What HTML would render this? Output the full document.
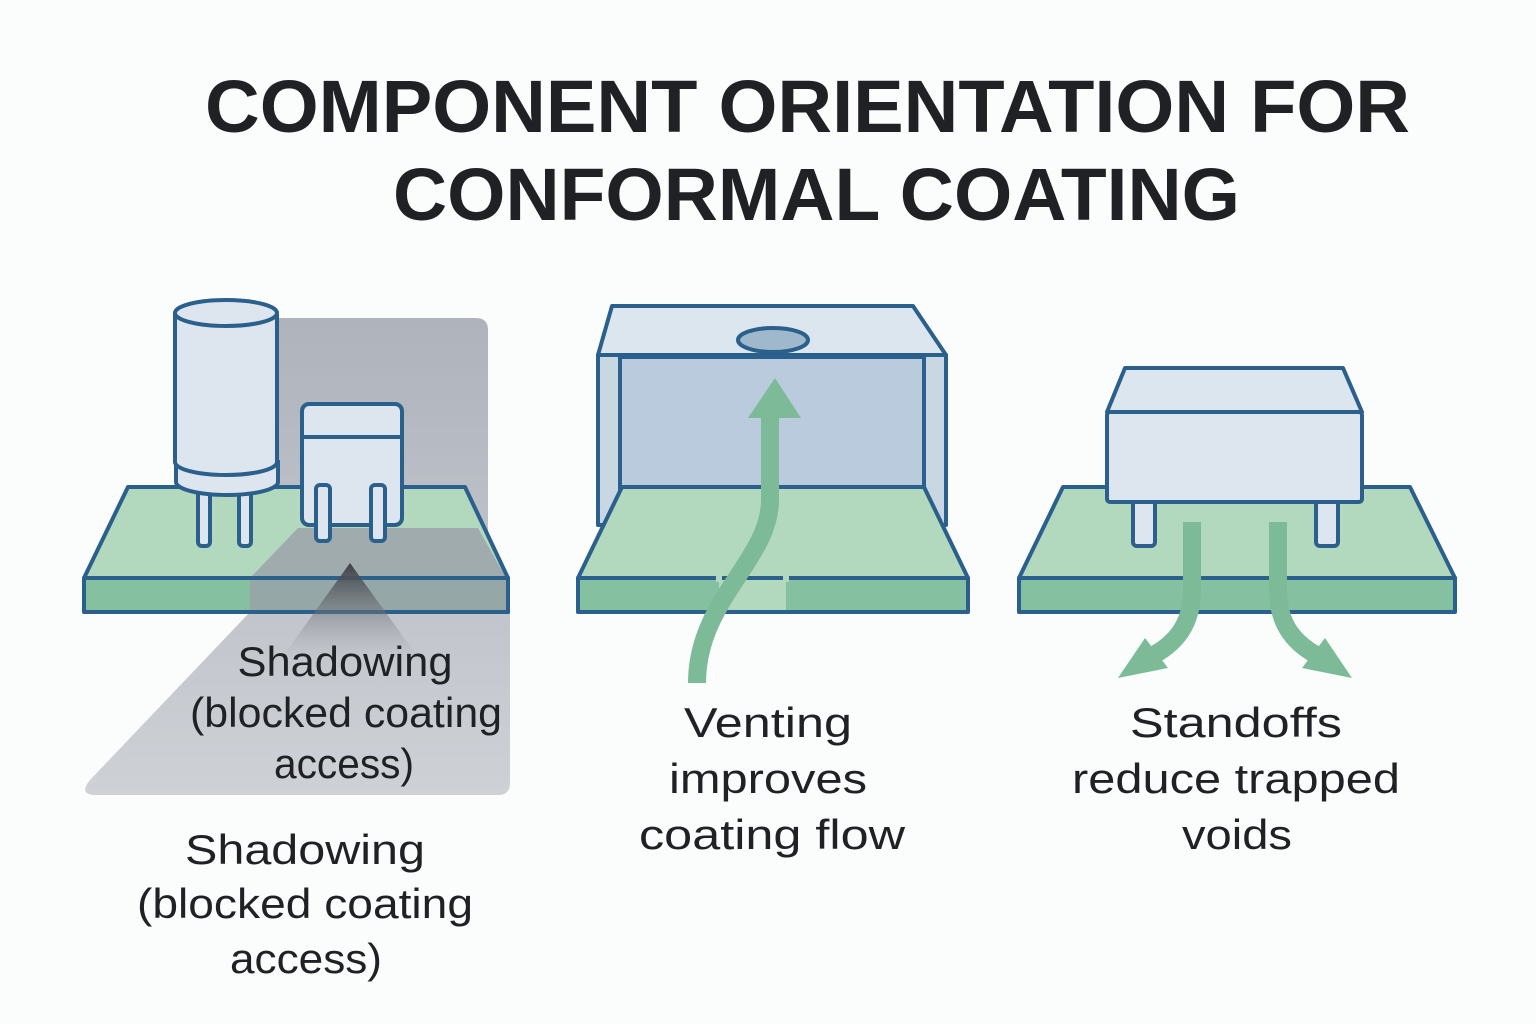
<!DOCTYPE html>
<html><head><meta charset="utf-8"><style>html,body{margin:0;padding:0;background:#fbfcfc}svg{display:block}</style></head>
<body>
<svg width="1536" height="1024" viewBox="0 0 1536 1024" xmlns="http://www.w3.org/2000/svg">
<defs>
<linearGradient id="sh" x1="0" y1="0" x2="0" y2="1"><stop offset="0" stop-color="#aeb3bc"/><stop offset="1" stop-color="#ced1d6"/></linearGradient>
<linearGradient id="tri" x1="0" y1="0" x2="0" y2="1"><stop offset="0" stop-color="#3c3f45"/><stop offset="1" stop-color="#9ea2aa" stop-opacity="0"/></linearGradient>
</defs>
<rect width="1536" height="1024" fill="#fbfcfc"/>
<g font-family="Liberation Sans, sans-serif" font-weight="bold" fill="#1f2124" font-size="74">
<text x="205" y="132" textLength="1205" lengthAdjust="spacingAndGlyphs">COMPONENT ORIENTATION FOR</text>
<text x="393" y="220" textLength="847" lengthAdjust="spacingAndGlyphs">CONFORMAL COATING</text>
</g>
<g stroke="#2b5f8c" stroke-width="4" stroke-linejoin="round">
<!-- Panel 1 -->
<path d="M262,318 H476 Q488,318 488,330 V580 H510 V783 Q510,795 498,795 H96 Q78,795 90,780 L250,612 V330 Q250,318 262,318Z" fill="url(#sh)" stroke="none"/>
<path d="M128,487 H465 L508,578 H84Z" fill="#b2d8bd"/>
<rect x="84" y="578" width="424" height="34" fill="#85c0a0"/>
<path d="M298,528 H478 L506,578 H250Z M250,580 H506 V610 H250Z" fill="#9aa0a9" fill-opacity="0.8" stroke="none"/>
<path d="M84,578 H508 M508,578 V612 H84" fill="none"/>
<path d="M350,563 L420,660 H280Z" fill="url(#tri)" stroke="none"/>
<rect x="198" y="480" width="12" height="66" rx="4" fill="#dde6ee"/>
<rect x="239" y="480" width="12" height="66" rx="4" fill="#dde6ee"/>
<path d="M176,460 V482 A51,13 0 0 0 278,482 V460" fill="#dde6ee"/>
<path d="M175,313 V462 A51,13 0 0 0 277,462 V313" fill="#dde6ee"/>
<ellipse cx="226" cy="313" rx="51" ry="13" fill="#dde6ee"/>
<rect x="302" y="404" width="100" height="121" rx="7" fill="#dde6ee"/>
<path d="M302,437 H402" fill="none"/>
<rect x="316" y="485" width="14" height="56" rx="4" fill="#dde6ee"/>
<rect x="371" y="485" width="14" height="56" rx="4" fill="#dde6ee"/>
<!-- Panel 2 -->
<path d="M612,306 H913 L946,355 H598Z" fill="#dce6ee"/>
<rect x="598" y="355" width="348" height="170" fill="#c9d7e3"/>
<rect x="620" y="357" width="304" height="132" fill="#b9cbdc"/>
<ellipse cx="773" cy="340" rx="35" ry="12" fill="#9fb8cc"/>
<path d="M622,487 H924 L968,578 H578Z" fill="#b2d8bd"/>
<rect x="578" y="578" width="390" height="34" fill="#85c0a0"/>
<rect x="719" y="580" width="67" height="30" fill="#b2d8bd" stroke="none"/>
<path d="M719,576 V582 M786,576 V582" stroke="#b2d8bd" stroke-width="6"/>
<path d="M697,683 C697,600 770,560 770,500 V415" fill="none" stroke="#7dbb98" stroke-width="18" stroke-linejoin="miter"/>
<path d="M748,418 H801 L775,378Z" fill="#7dbb98" stroke="none"/>
<!-- Panel 3 -->
<path d="M1063,487 H1410 L1455,578 H1019Z" fill="#b2d8bd"/>
<rect x="1019" y="578" width="436" height="34" fill="#85c0a0"/>
<rect x="1133" y="498" width="22" height="48" rx="4" fill="#dde6ee"/>
<rect x="1316" y="498" width="22" height="48" rx="4" fill="#dde6ee"/>
<path d="M1125,368 H1343 L1362,412 H1107Z" fill="#dce6ee"/>
<rect x="1107" y="412" width="255" height="90" rx="3" fill="#dde6ee"/>
<path d="M1192,522 V590 C1192,625 1175,645 1148,658" fill="none" stroke="#7dbb98" stroke-width="18" stroke-linejoin="miter"/>
<path d="M1118,678 L1145,638 L1168,668Z" fill="#7dbb98" stroke="none"/>
<path d="M1278,522 V590 C1278,625 1295,645 1322,658" fill="none" stroke="#7dbb98" stroke-width="18" stroke-linejoin="miter"/>
<path d="M1352,678 L1325,638 L1302,668Z" fill="#7dbb98" stroke="none"/>
</g>
<g font-family="Liberation Sans, sans-serif" fill="#1f2124" text-anchor="middle" font-size="42">
<text x="345" y="676" textLength="215" lengthAdjust="spacingAndGlyphs">Shadowing</text>
<text x="346" y="727" textLength="312" lengthAdjust="spacingAndGlyphs">(blocked coating</text>
<text x="344" y="778" textLength="140" lengthAdjust="spacingAndGlyphs">access)</text>
<text x="305" y="864" textLength="240" lengthAdjust="spacingAndGlyphs">Shadowing</text>
<text x="305" y="918" textLength="336" lengthAdjust="spacingAndGlyphs">(blocked coating</text>
<text x="306" y="973" textLength="152" lengthAdjust="spacingAndGlyphs">access)</text>
<text x="768" y="737" textLength="168" lengthAdjust="spacingAndGlyphs">Venting</text>
<text x="768" y="793" textLength="198" lengthAdjust="spacingAndGlyphs">improves</text>
<text x="772" y="849" textLength="266" lengthAdjust="spacingAndGlyphs">coating flow</text>
<text x="1236" y="737" textLength="212" lengthAdjust="spacingAndGlyphs">Standoffs</text>
<text x="1236" y="793" textLength="328" lengthAdjust="spacingAndGlyphs">reduce trapped</text>
<text x="1237" y="849" textLength="110" lengthAdjust="spacingAndGlyphs">voids</text>
</g>
</svg>
</body></html>
